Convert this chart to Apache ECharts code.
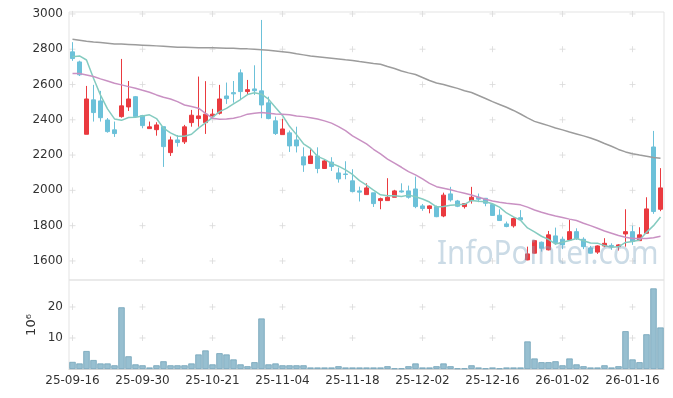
<!DOCTYPE html>
<html><head><meta charset="utf-8">
<script src="https://cdn.jsdelivr.net/npm/echarts@6/dist/echarts.min.js"></script>
<style>html,body{margin:0;padding:0;background:#fff}#c{width:673px;height:398px}</style>
</head><body><div id="c"></div>
<script>
const dates = ['25-09-16','25-09-17','25-09-18','25-09-19','25-09-22','25-09-23','25-09-24','25-09-25','25-09-26','25-09-29',
'25-09-30','25-10-01','25-10-02','25-10-10','25-10-13','25-10-14','25-10-15','25-10-16','25-10-17','25-10-20',
'25-10-21','25-10-22','25-10-23','25-10-24','25-10-27','25-10-28','25-10-29','25-10-30','25-10-31','25-11-03',
'25-11-04','25-11-05','25-11-06','25-11-07','25-11-10','25-11-11','25-11-12','25-11-13','25-11-14','25-11-17',
'25-11-18','25-11-19','25-11-20','25-11-21','25-11-24','25-11-25','25-11-26','25-11-27','25-11-28','25-12-01',
'25-12-02','25-12-03','25-12-04','25-12-05','25-12-08','25-12-09','25-12-10','25-12-11','25-12-12','25-12-15',
'25-12-16','25-12-17','25-12-18','25-12-19','25-12-22','25-12-23','25-12-24','25-12-26','25-12-29','25-12-30',
'26-01-02','26-01-05','26-01-06','26-01-07','26-01-08','26-01-09','26-01-12','26-01-13','26-01-14','26-01-15',
'26-01-16','26-01-19','26-01-20','26-01-21','26-01-22'];
const opens = [2785,2728,2318,2513,2507,2399,2343,2418,2473,2531,
2424,2350,2344,2361,2214,2286,2275,2384,2407,2384,
2422,2437,2535,2554,2666,2560,2575,2564,2496,2394,
2316,2326,2286,2190,2152,2195,2124,2160,2099,2093,
2054,1997,1976,1986,1942,1942,1961,1997,1997,2008,
1912,1897,1908,1855,1980,1940,1908,1942,1961,1955,
1920,1859,1810,1799,1845,1606,1644,1706,1663,1742,
1723,1719,1766,1723,1674,1650,1685,1688,1681,1753,
1766,1715,1757,2246,1893];
const closes = [2747,2655,2518,2441,2412,2333,2322,2479,2518,2418,
2367,2360,2371,2248,2286,2271,2360,2426,2422,2432,
2432,2518,2520,2547,2560,2571,2565,2484,2407,2322,
2348,2252,2252,2144,2195,2124,2167,2135,2065,2090,
1993,1990,2014,1925,1953,1961,1997,1991,1961,1908,
1897,1912,1851,1973,1946,1910,1925,1961,1950,1927,
1858,1829,1795,1840,1833,1640,1715,1672,1748,1704,
1691,1766,1727,1681,1644,1685,1700,1682,1691,1766,
1710,1748,1895,1880,2014];
const lows = [2734,2648,2318,2390,2390,2327,2303,2412,2450,2418,
2352,2350,2310,2133,2195,2248,2263,2361,2361,2320,
2407,2430,2490,2497,2513,2545,2541,2409,2403,2314,
2316,2218,2215,2105,2152,2097,2124,2110,2044,2063,
1990,1937,1976,1906,1893,1942,1961,1987,1953,1899,
1884,1870,1848,1848,1936,1905,1897,1925,1933,1910,
1855,1827,1791,1789,1829,1604,1642,1653,1660,1691,
1667,1717,1719,1667,1642,1640,1678,1663,1659,1681,
1691,1713,1755,1867,1882];
const highs = [2840,2735,2592,2598,2564,2410,2390,2745,2620,2535,
2428,2390,2386,2361,2305,2314,2371,2456,2645,2619,
2462,2598,2611,2620,2686,2626,2709,2966,2531,2418,
2405,2339,2361,2244,2233,2244,2173,2188,2129,2165,
2120,2021,2040,1986,1959,2069,2003,2040,2027,2078,
1923,1915,1914,1987,2020,1946,1928,2020,1982,1957,
1925,1893,1823,1846,1888,1681,1719,1710,1770,1789,
1738,1833,1785,1734,1685,1688,1729,1700,1695,1893,
1800,1791,1961,2337,2126];
const volumes = [2.3,1.8,5.8,2.9,1.8,1.8,1.2,19.9,4.1,1.5,
1.2,0.5,1.2,2.5,1.2,1.2,1.2,1.8,4.7,6.0,
1.5,5.1,4.7,3.1,1.5,0.9,2.2,16.3,1.5,1.8,
1.2,1.2,1.2,1.2,0.5,0.5,0.5,0.5,0.9,0.5,
0.5,0.5,0.5,0.5,0.5,0.9,0.2,0.2,0.9,1.8,
0.5,0.5,0.9,1.8,0.9,0.2,0.2,1.2,0.5,0.2,
0.5,0.2,0.5,0.5,0.5,8.9,3.4,2.2,2.2,2.5,
1.2,3.4,1.5,0.9,0.5,0.5,1.2,0.5,0.9,12.2,
3.1,2.2,11.2,26.0,13.4];
const ma5 = [2758,2762,2739,2636,2540,2462,2405,2397,2413,2414,
2421,2428,2407,2353,2326,2307,2307,2318,2353,2382,
2414,2446,2465,2490,2515,2543,2553,2545,2517,2470,
2425,2363,2316,2264,2238,2193,2176,2153,2137,2116,
2090,2055,2030,2002,1975,1969,1970,1965,1973,1964,
1951,1934,1906,1908,1916,1918,1921,1943,1938,1935,
1924,1905,1872,1850,1831,1787,1765,1740,1722,1696,
1706,1716,1727,1714,1702,1701,1687,1678,1680,1705,
1710,1719,1762,1800,1849];
const ma20 = [2662,2662,2654,2645,2632,2620,2607,2598,2588,2579,
2567,2556,2541,2528,2518,2503,2484,2475,2466,2437,
2409,2403,2405,2409,2418,2432,2437,2441,2437,2433,
2432,2428,2422,2418,2412,2405,2394,2381,2361,2339,
2309,2286,2263,2233,2207,2177,2154,2131,2106,2088,
2065,2040,2021,2012,2003,1993,1984,1974,1961,1950,
1940,1933,1927,1923,1918,1905,1889,1876,1865,1855,
1846,1837,1829,1814,1800,1785,1770,1757,1744,1734,
1727,1727,1727,1732,1740];
const maLong = [2857,2851,2845,2841,2838,2834,2830,2829,2827,2825,
2823,2821,2819,2817,2814,2811,2811,2810,2809,2809,
2808,2807,2806,2805,2803,2802,2800,2797,2794,2790,
2786,2781,2774,2768,2761,2757,2753,2749,2745,2740,
2736,2730,2725,2719,2715,2702,2691,2677,2666,2657,
2640,2623,2609,2600,2589,2578,2565,2555,2538,2521,
2503,2487,2471,2453,2433,2411,2391,2379,2367,2354,
2343,2331,2320,2309,2297,2283,2266,2250,2232,2218,
2208,2200,2193,2186,2182];
const priceTicks = [1600,1800,2000,2200,2400,2600,2800,3000];
const volumeTicks = [10,20];
const labelIdx = [0,10,20,30,40,50,60,70,80];

const candleData = dates.map((d,i)=>[opens[i],closes[i],lows[i],highs[i]]);
const crossMain = []; labelIdx.forEach(i=>priceTicks.forEach(v=>crossMain.push([i,v])));
const crossVol = []; labelIdx.forEach(i=>volumeTicks.forEach(v=>crossVol.push([i,v])));

const font = 'DejaVu Sans';
const crossSym = 'path://M0,5L10,5M5,0L5,10';
const chart = echarts.init(document.getElementById('c'), null, {renderer:'canvas'});
chart.setOption({
  animation:false,
  backgroundColor:'#fff',
  grid:[
    {left:69,top:12,width:595,height:268,show:true,borderColor:'#e3e3e3',borderWidth:1},
    {left:69,top:280,width:595,height:89,show:true,borderColor:'#e3e3e3',borderWidth:1}
  ],
  xAxis:[
    {type:'category',data:dates,gridIndex:0,boundaryGap:true,axisLine:{show:false},axisTick:{show:false},axisLabel:{show:false},splitLine:{show:false}},
    {type:'category',data:dates,gridIndex:1,boundaryGap:true,axisLine:{show:true,lineStyle:{color:'#d6d6d6'}},axisTick:{show:false},
     axisLabel:{interval:9,fontFamily:font,fontSize:12,color:'#333',margin:6},splitLine:{show:false}}
  ],
  yAxis:[
    {type:'value',gridIndex:0,min:1492,max:3011,splitNumber:7,scale:true,axisLine:{show:false},axisTick:{show:false},splitLine:{show:false},
     axisLabel:{showMinLabel:false,showMaxLabel:false,fontFamily:font,fontSize:12,color:'#333',margin:6,formatter:v=>String(v)}},
    {type:'value',gridIndex:1,min:0,max:28.7,splitNumber:3,axisLine:{show:false},axisTick:{show:false},splitLine:{show:false},
     axisLabel:{showMinLabel:false,showMaxLabel:false,fontFamily:font,fontSize:12,color:'#333',margin:6,formatter:v=>String(v)}}
  ],
  graphic:[
    {type:'text',x:32,y:325,rotation:Math.PI/2,style:{text:'10⁶',font:'13px "DejaVu Sans"',fill:'#333',align:'center',verticalAlign:'middle'}},
    {type:'text',x:437,y:271,scaleX:0.9,z:100,style:{text:'InfoPointer.com',font:'33px "Noto Sans"',fill:'rgba(130,170,195,0.42)',align:'left',verticalAlign:'bottom'}}
  ],
  series:[
    {type:'scatter',xAxisIndex:0,yAxisIndex:0,data:crossMain,symbol:crossSym,symbolSize:6,silent:true,z:1,
     itemStyle:{color:'none',borderColor:'#d9d9d9',borderWidth:1}},
    {type:'scatter',xAxisIndex:1,yAxisIndex:1,data:crossVol,symbol:crossSym,symbolSize:6,silent:true,z:1,
     itemStyle:{color:'none',borderColor:'#d9d9d9',borderWidth:1}},
    {type:'candlestick',xAxisIndex:0,yAxisIndex:0,data:candleData,barWidth:'70%',z:3,
     itemStyle:{color:'#ea3a3f',color0:'#6cc1d9',borderColor:'#ea3a3f',borderColor0:'#6cc1d9',borderWidth:1}},
    {type:'line',xAxisIndex:0,yAxisIndex:0,data:ma5,symbol:'none',z:4,lineStyle:{color:'#84cbc0',width:1.5}},
    {type:'line',xAxisIndex:0,yAxisIndex:0,data:ma20,symbol:'none',z:4,lineStyle:{color:'#c991c3',width:1.5}},
    {type:'line',xAxisIndex:0,yAxisIndex:0,data:maLong,symbol:'none',z:4,lineStyle:{color:'#9c9c9c',width:1.5}},
    {type:'bar',xAxisIndex:1,yAxisIndex:1,data:volumes,barCategoryGap:'8%',z:3,
     itemStyle:{color:'#97bfd0',borderColor:'#72a3b9',borderWidth:0.8}}
  ]
});
</script></body></html>
